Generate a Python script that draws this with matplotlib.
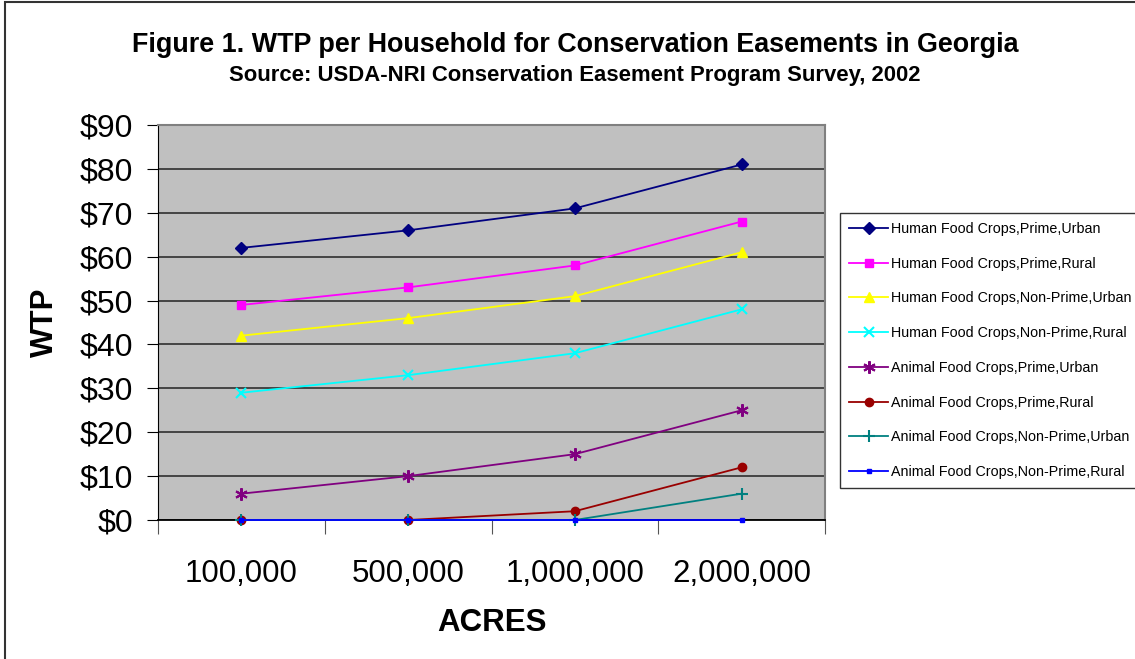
import numpy as np
import matplotlib.pyplot as plt
from matplotlib.patches import Rectangle

plt.rcParams['font.family'] = ['Liberation Sans', 'DejaVu Sans']

# Data
acres = ['100,000', '500,000', '1,000,000', '2,000,000']

hfc_prime_urban = [62, 66, 71, 81]
hfc_prime_rural = [49, 53, 58, 68]
hfc_nonprime_urban = [42, 46, 51, 61]
hfc_nonprime_rural = [29, 33, 38, 48]
afc_prime_urban = [6, 10, 15, 25]
afc_prime_rural = [0, 0, 2, 12]
afc_nonprime_urban = [0, 0, 0, 6]
afc_nonprime_rural = [0, 0, 0, 0]

series = [
    ('Human Food Crops,Prime,Urban', hfc_prime_urban, '#000080', 'D', 6),
    ('Human Food Crops,Prime,Rural', hfc_prime_rural, '#FF00FF', 's', 6),
    ('Human Food Crops,Non-Prime,Urban', hfc_nonprime_urban, '#FFFF00', '^', 7),
    ('Human Food Crops,Non-Prime,Rural', hfc_nonprime_rural, '#00FFFF', 'x', 7),
    ('Animal Food Crops,Prime,Urban', afc_prime_urban, '#800080', (6, 2, 0), 9),
    ('Animal Food Crops,Prime,Rural', afc_prime_rural, '#990000', 'o', 6),
    ('Animal Food Crops,Non-Prime,Urban', afc_nonprime_urban, '#008080', '+', 8),
    ('Animal Food Crops,Non-Prime,Rural', afc_nonprime_rural, '#0000FF', 's', 3),
]

fig = plt.figure(figsize=(11.35, 6.59), dpi=100)

# outer chart border (runs off the bottom and right of the image)
fig.patches.append(Rectangle((5 / 1135, -0.1), 1.2, 1.1 - 2 / 659,
                             transform=fig.transFigure,
                             fill=False, edgecolor='#333333', linewidth=1.5))

ax = fig.add_axes([158 / 1135, 1 - 520 / 659, 667 / 1135, 395 / 659])
ax.set_facecolor('#C0C0C0')

x = np.arange(len(acres))
for label, vals, color, marker, ms in series:
    mew = 1.5 if marker in ('x', '+') or isinstance(marker, tuple) else 1
    ax.plot(x, vals, color=color, marker=marker, markersize=ms, linewidth=1.3,
            markeredgewidth=mew, label=label, zorder=3, clip_on=False)

ax.set_xlim(-0.5, 3.5)
ax.set_ylim(0, 90)
ax.set_yticks(np.arange(0, 91, 10))
ax.set_yticklabels(['$%d' % v for v in range(0, 91, 10)], fontsize=23)
ax.yaxis.grid(True, color='#3a3a3a', linewidth=1.3)
ax.set_axisbelow(True)

ax.set_xticks(np.arange(-0.5, 3.6, 1))
ax.set_xticklabels([])
ax.set_xticks(x, minor=True)
ax.set_xticklabels(acres, minor=True, fontsize=22.5)
ax.tick_params(axis='x', which='major', length=10, direction='out', color='#555555')
ax.tick_params(axis='x', which='minor', length=0, pad=28)
ax.tick_params(axis='y', length=8, direction='out', pad=10)

for side in ('top', 'right'):
    ax.spines[side].set_color('#808080')
    ax.spines[side].set_linewidth(1.5)
ax.spines['left'].set_color('black')
ax.spines['bottom'].set_color('black')
ax.spines['bottom'].set_linewidth(1.3)

ax.set_ylabel('WTP', fontsize=22.5, fontweight='bold', labelpad=14)
ax.set_xlabel('ACRES', fontsize=22.5, fontweight='bold', labelpad=14)

fig.text(575 / 1135, 1 - 45 / 659, 'Figure 1. WTP per Household for Conservation Easements in Georgia',
         ha='center', va='center', fontsize=19.4, fontweight='bold')
fig.text(575 / 1135, 1 - 75 / 659, 'Source: USDA-NRI Conservation Easement Program Survey, 2002',
         ha='center', va='center', fontsize=15.9, fontweight='bold')

leg = fig.legend(loc='upper left', bbox_to_anchor=(840 / 1135, 1 - 213 / 659),
                 fontsize=10.3, frameon=True, fancybox=False, edgecolor='black',
                 labelspacing=1.45, handlelength=2.75, handletextpad=0.2,
                 borderpad=0.62, borderaxespad=0)
leg.get_frame().set_linewidth(1.0)

fig.savefig('out.png', dpi=100)
